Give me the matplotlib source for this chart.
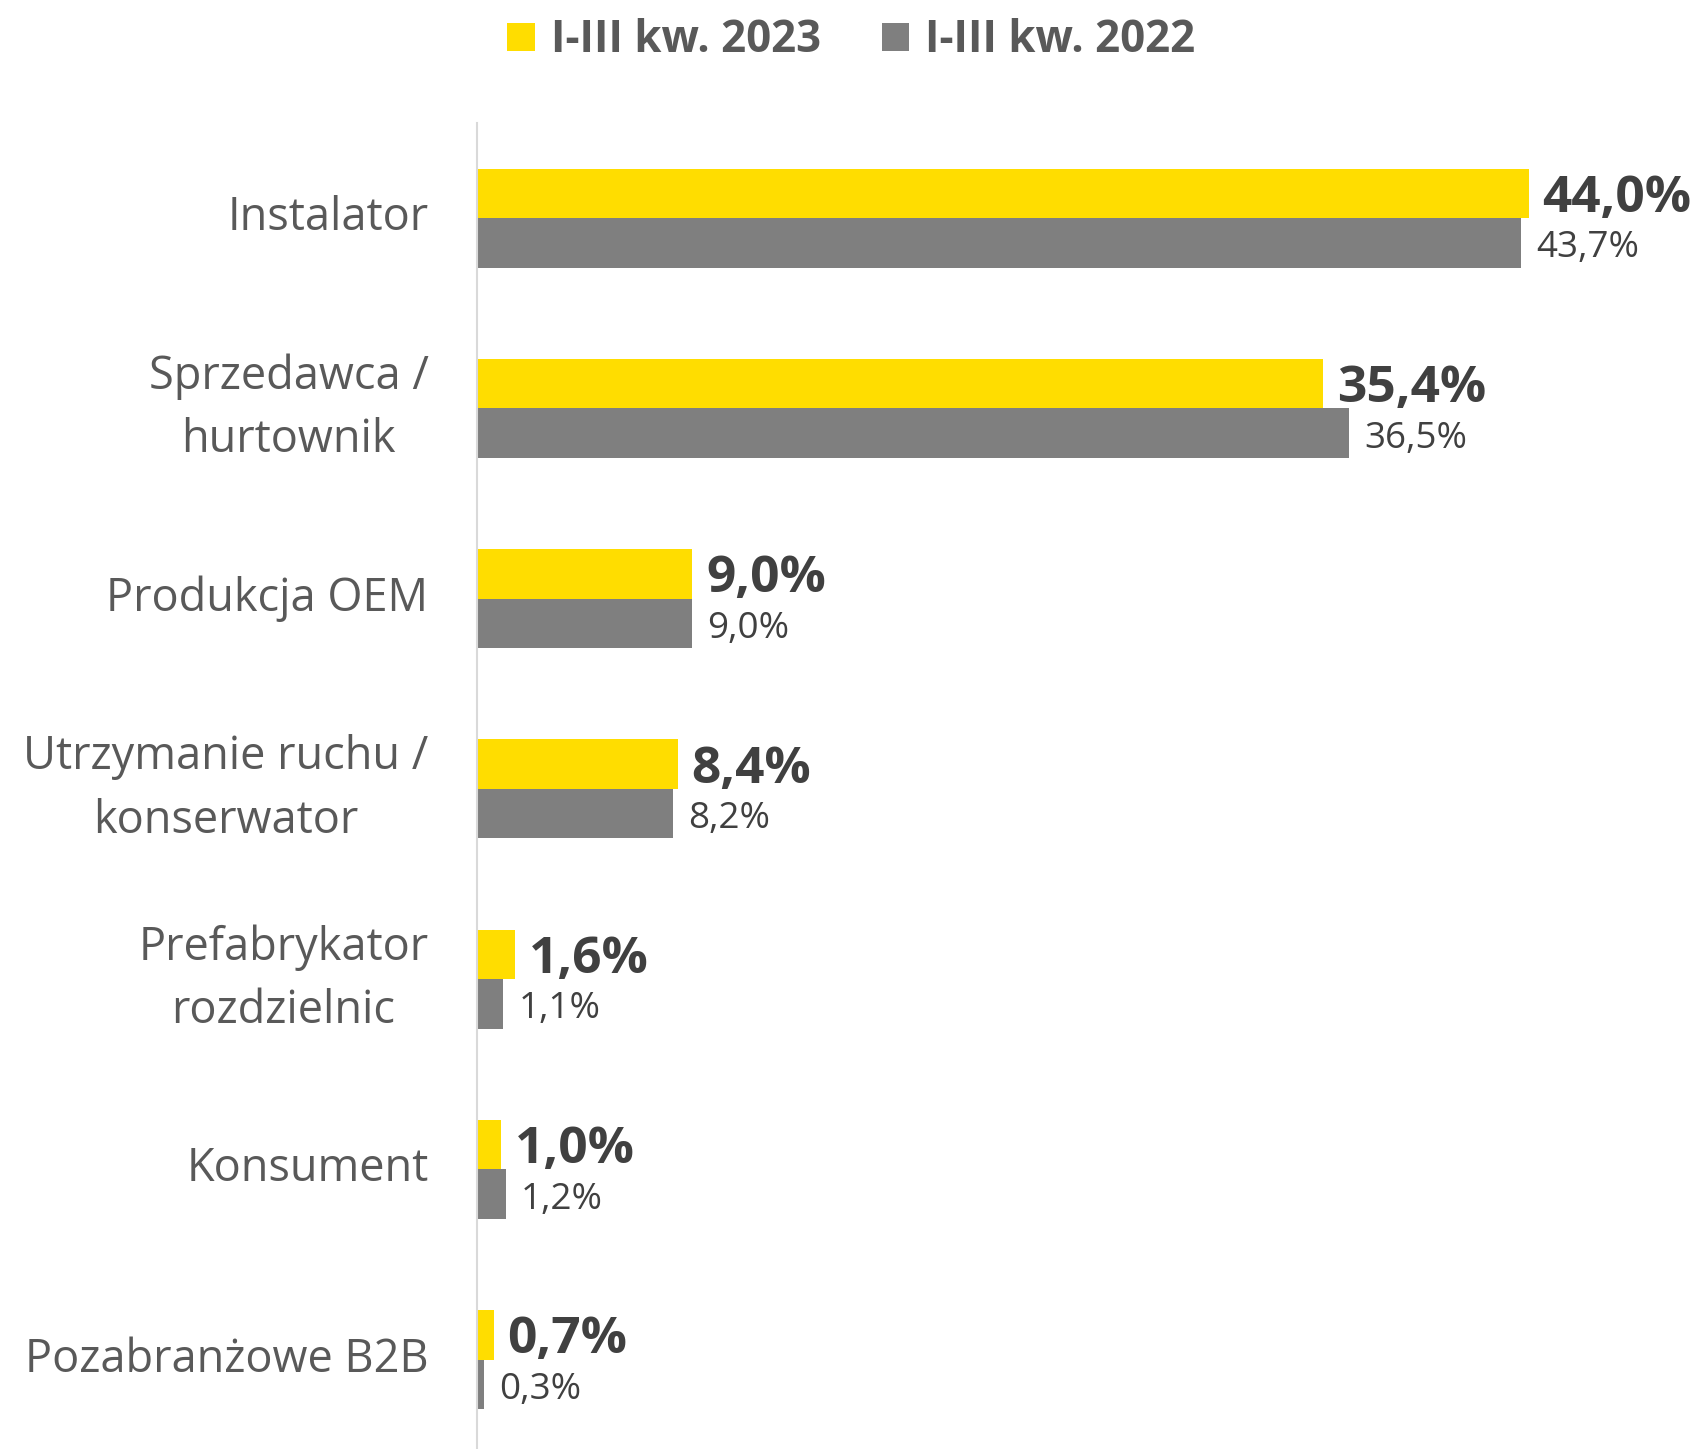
import matplotlib.pyplot as plt
import numpy as np

plt.rcParams['font.family'] = ['Open Sans', 'DejaVu Sans']

categories = ['Instalator', 'Sprzedawca /\nhurtownik', 'Produkcja OEM',
              'Utrzymanie ruchu /\nkonserwator', 'Prefabrykator\nrozdzielnic',
              'Konsument', 'Pozabranżowe B2B']
values_2023 = [44.0, 35.4, 9.0, 8.4, 1.6, 1.0, 0.7]
values_2022 = [43.7, 36.5, 9.0, 8.2, 1.1, 1.2, 0.3]
series_names = ['I-III kw. 2023', 'I-III kw. 2022']

yellow = '#FFDD00'
grey = '#7F7F7F'

fig = plt.figure(figsize=(17.03, 14.49), dpi=100)
ax = fig.add_axes([477 / 1703, 0.0, 1 - 477 / 1703, 1 - 123 / 1449])

y = np.arange(len(categories))
h = 0.26
b1 = ax.barh(y - h / 2, values_2023, height=h, color=yellow, label=series_names[0])
b2 = ax.barh(y + h / 2, values_2022, height=h, color=grey, label=series_names[1])

fmt = lambda v: f'{v:.1f}%'.replace('.', ',')
lab1 = ax.bar_label(b1, labels=[fmt(v) for v in values_2023], padding=10,
                    fontsize=37, fontweight='bold', color='#404040')
lab2 = ax.bar_label(b2, labels=[fmt(v) for v in values_2022], padding=11,
                    fontsize=26.5, color='#404040')
# przesunięcie etykiet odrobinę w dół
for a in lab1:
    a.xyann = (10, -4)
for a in lab2:
    a.xyann = (11, -4)

ax.set_xlim(0, 1226 / 23.9)
ax.set_ylim(6.47, -0.5)
ax.set_xticks([])
ax.set_yticks(y)
ax.set_yticklabels(categories, fontsize=32.5, color='#595959', linespacing=1.5,
                   multialignment='center', va='center')
ax.tick_params(axis='y', length=0, pad=35)
for s in ['top', 'right', 'bottom']:
    ax.spines[s].set_visible(False)
ax.spines['left'].set_color('#D9D9D9')
ax.spines['left'].set_linewidth(1.5)

leg = fig.legend(handles=[b1, b2], loc='center', bbox_to_anchor=(0.5, 1 - 41 / 1449),
                 ncol=2, frameon=False, fontsize=31.5, handlelength=0.62, handleheight=0.62,
                 handletextpad=0.37, columnspacing=1.4)
for t in leg.get_texts():
    t.set_fontweight('bold')
    t.set_color('#595959')

fig.savefig('out.png', dpi=100)
